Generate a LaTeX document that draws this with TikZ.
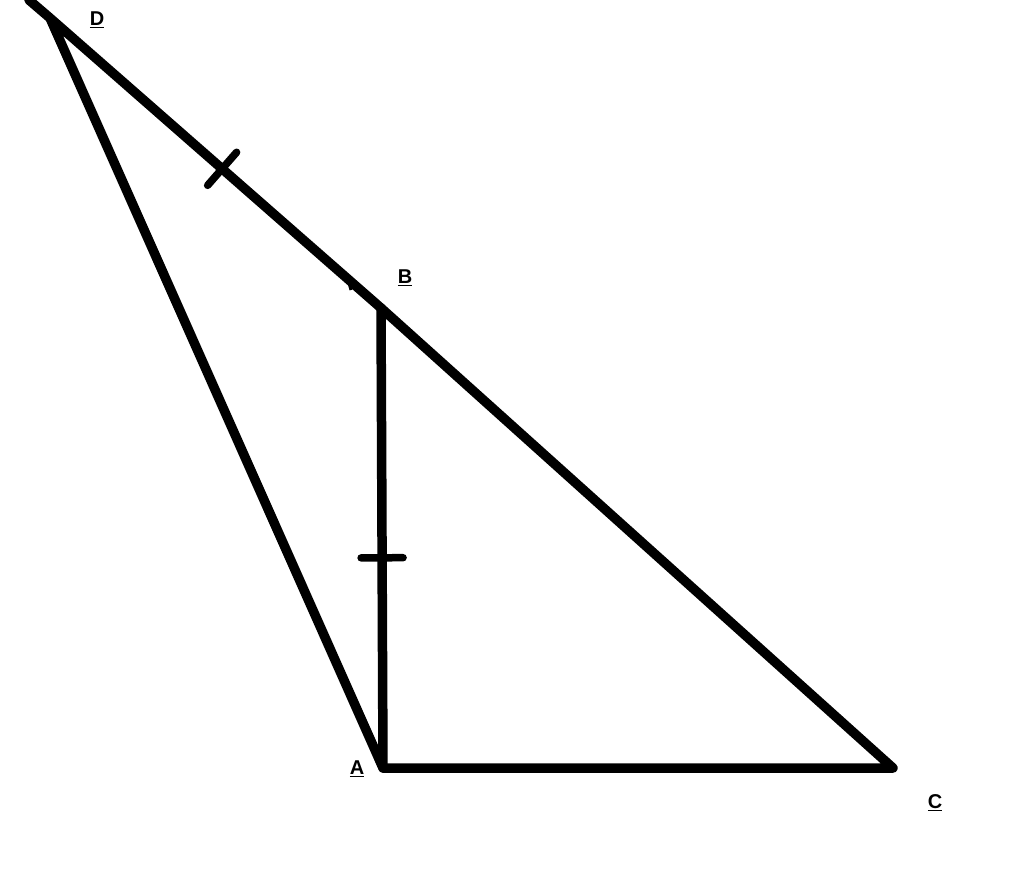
\documentclass[tikz,border=0pt]{standalone}
\usepackage{fontspec}
\setmainfont{Liberation Sans}
\usetikzlibrary{calc}
\begin{document}
\begin{tikzpicture}[x=1pt,y=-1pt,
  seg/.style={line width=9.5pt,line cap=round,line join=round},
  tick/.style={line width=7.5pt,line cap=round},
  lab/.style={font=\fontsize{20}{20}\selectfont\bfseries,inner sep=0pt}]
\useasboundingbox (0,0) rectangle (1024,879);
\coordinate (D) at (50,18);
\coordinate (B) at (381,308);
\coordinate (A) at (383,768);
\coordinate (C) at (893,768);
\coordinate (E) at (29,0);
\draw[seg] (E) -- (D) -- (B) -- (C) -- (A) -- (D);
\draw[seg] (B) -- (A);
% ticks
\coordinate (t1) at ($(D)!0.52!(B)$);
\draw[tick] ($(t1)!22pt!90:(B)$) -- ($(t1)!22pt!-90:(B)$);
\coordinate (t2) at ($(B)!0.543!(A)$);
\draw[tick] ($(t2)!21pt!90:(A)$) -- ($(t2)!21pt!-90:(A)$);
\coordinate (m1) at (347,276);
\coordinate (m2) at (351,290);
\draw[line width=3pt] (m1) -- (m2);
\node[lab] (lD) at (97,20) {\underline{D}};
\node[lab] (lB) at (405,278) {\underline{B}};
\node[lab] (lA) at (357,769) {\underline{A}};
\node[lab] (lC) at (935,803) {\underline{C}};
\end{tikzpicture}
\end{document}
